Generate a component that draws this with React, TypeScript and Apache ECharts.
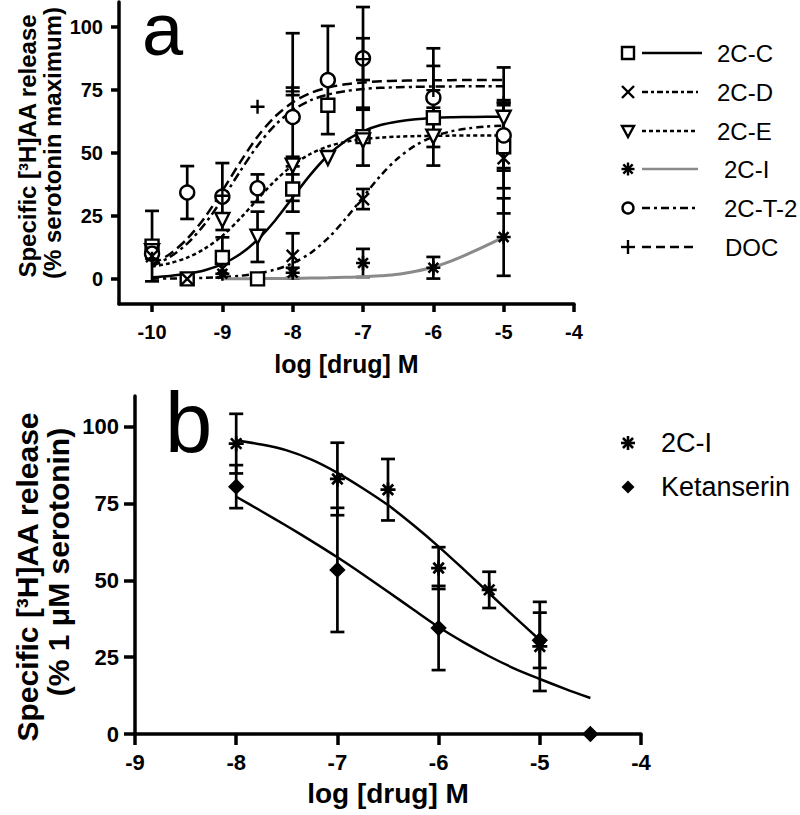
import React, { useEffect, useRef } from "react";
import * as echarts from "echarts";

const FONT = '"Liberation Sans", Arial, Helvetica, sans-serif';

// ---------- Panel a ----------
const aTicksX = [-10, -9, -8, -7, -6, -5, -4];
const aTicksY = [0, 25, 50, 75, 100];
// points: [log dose, mean, error]
const a2CC = [[-10, 13, 14], [-9.5, 0, 0], [-9, 8.5, 8], [-8.5, 0, 0], [-8, 35.7, 9], [-7.5, 69, 0], [-7, 56.5, 11.5], [-6, 64, 0], [-5, 52.5, 16.5]];
const a2CD = [[-10, 9, 0], [-9.5, 0, 0], [-9, 4, 0], [-8, 9.1, 9], [-7, 31.7, 4], [-5, 48, 22]];
const a2CE = [[-10, 11, 0], [-9, 23.4, 0], [-8.5, 16.7, 10], [-8, 45, 3.5], [-7.5, 48, 0], [-7, 55, 0], [-6, 56.5, 11.5], [-5, 64, 20]];
const a2CI = [[-9, 2, 0], [-8, 2.4, 2], [-7, 6.3, 5.6], [-6, 4.4, 4.3], [-5, 16.6, 15.4]];
const a2CT2 = [[-10, 10, 0], [-9.5, 34.3, 10.5], [-9, 32.7, 13.3], [-8.5, 36, 5.5], [-8, 64.3, 33.3], [-7.5, 79, 21.5], [-7, 87.6, 20.4], [-6, 72, 19.6], [-5, 57, 14]];
const aDOC = [[-10, 8, 0], [-9, 33, 0], [-8.5, 68.4, 0], [-8, 74.5, 1.5], [-7, 87.3, 8.3], [-6, 75, 9.6], [-5, 70, 0]];

// fitted curves
const aCurveX = [-10, -9.75, -9.5, -9.25, -9, -8.75, -8.5, -8.25, -8, -7.75, -7.5, -7.25, -7, -6.75, -6.5, -6.25, -6, -5.75, -5.5, -5.25, -5];
const aCurve2CC = [0.64, 1.13, 1.98, 3.43, 5.86, 9.74, 15.5, 23.2, 32.3, 41.3, 49.0, 54.8, 58.6, 61.1, 62.5, 63.4, 63.9, 64.2, 64.3, 64.4, 64.4];
const aCurve2CD = [0.07, 0.12, 0.22, 0.39, 0.68, 1.2, 2.1, 3.65, 6.2, 10.2, 16.1, 23.8, 32.5, 41.0, 48.0, 53.1, 56.5, 58.6, 59.8, 60.5, 60.9];
const aCurve2CE = [4.85, 6.2, 8.45, 12.0, 17.1, 23.9, 31.6, 39.0, 45.1, 49.6, 52.6, 54.4, 55.5, 56.1, 56.5, 56.7, 56.8, 56.9, 56.95, 57, 57];
const aCurve2CT2 = [5.05, 8.6, 14.0, 21.8, 31.7, 42.6, 52.9, 61.1, 67.0, 70.9, 73.2, 74.6, 75.4, 75.9, 76.15, 76.3, 76.4, 76.45, 76.5, 76.5, 76.5];
const aCurveDOC = [5.8, 9.8, 15.9, 24.4, 35.0, 46.2, 56.5, 64.5, 70.1, 73.8, 76.0, 77.3, 78.0, 78.5, 78.7, 78.85, 78.9, 78.95, 79, 79, 79];
const aCurveXCI = [-9, -8.75, -8.5, -8.25, -8, -7.75, -7.5, -7.25, -7, -6.75, -6.5, -6.25, -6, -5.75, -5.5, -5.25, -5];
const aCurve2CI = [0, 0.05, 0.1, 0.15, 0.2, 0.3, 0.4, 0.6, 0.8, 1.2, 1.8, 3.0, 4.6, 7.0, 10.0, 13.2, 16.6];

const aLegendNames = ["2C-C", "2C-D", "2C-E", "2C-I", "2C-T-2", "DOC"];

// ---------- Panel b ----------
const bTicksX = [-9, -8, -7, -6, -5, -4];
const bTicksY = [0, 25, 50, 75, 100];
const b2CI = [[-8, 94.5, 9.7], [-7, 83, 11.8], [-6.5, 79.5, 10], [-6, 54, 6.8], [-5.5, 46.9, 5.9], [-5, 28.5, 14.5]];
const bKet = [[-8, 80.5, 7], [-7, 53.4, 20.2], [-6, 34.5, 13.7], [-5, 30.5, 9], [-4.5, 0, 0]];
const bCurveX2CI = [-8, -7.75, -7.5, -7.25, -7, -6.75, -6.5, -6.25, -6, -5.75, -5.5, -5.25, -5];
const bCurve2CI = [95.5, 94.2, 92.3, 89.2, 85, 80, 74.5, 68, 61, 53.5, 45.8, 38.1, 30.6];
const bCurveXKet = [-8, -7.75, -7.5, -7.25, -7, -6.75, -6.5, -6.25, -6, -5.75, -5.5, -5.25, -5, -4.75, -4.5];
const bCurveKet = [77.2, 72.5, 67.7, 62.7, 57.5, 52.0, 46.3, 40.5, 34.8, 29.8, 25.3, 21.3, 17.9, 14.7, 11.7];
const bLegendNames = ["2C-I", "Ketanserin"];

// ---------- styles ----------
const BLACK = "#000";
const GRAY = "#8a8a8a";
const SYM_X = "path://M0,0L10,10M10,0L0,10";
const SYM_PLUS = "path://M5,0L5,10M0,5L10,5";
const SYM_STAR = "path://M5,0L5,10M0,5L10,5M1.5,1.5L8.5,8.5M8.5,1.5L1.5,8.5";

const zip = (xs: number[], ys: number[]) => xs.map((x, i) => [x, ys[i]]);

function errorSeries(data: number[][], axis: number) {
  return {
    type: "custom",
    xAxisIndex: axis,
    yAxisIndex: axis,
    z: 1,
    silent: true,
    clip: false,
    data: data.filter((d) => d[2] > 0),
    renderItem: (_p: any, api: any) => {
      const x = api.value(0);
      const m = api.value(1);
      const e = api.value(2);
      const t = api.coord([x, m + e]);
      const b = api.coord([x, m - e]);
      const hw = 7;
      const st = { stroke: BLACK, lineWidth: 2.7 };
      return {
        type: "group",
        children: [
          { type: "line", shape: { x1: t[0], y1: t[1], x2: b[0], y2: b[1] }, style: st },
          { type: "line", shape: { x1: t[0] - hw, y1: t[1], x2: t[0] + hw, y2: t[1] }, style: st },
          { type: "line", shape: { x1: b[0] - hw, y1: b[1], x2: b[0] + hw, y2: b[1] }, style: st },
        ],
      };
    },
  };
}

function pointSeries(name: string, data: number[][], axis: number, symbol: string, size: number, fill: string, rotate = 0, bw = 2.4) {
  return {
    name,
    type: "scatter",
    xAxisIndex: axis,
    yAxisIndex: axis,
    z: 4,
    silent: true,
    symbol,
    symbolSize: size,
    symbolRotate: rotate,
    itemStyle: { color: fill, borderColor: BLACK, borderWidth: bw, opacity: 1 },
    data: data.map((d) => [d[0], d[1]]),
  };
}

function curveSeries(xs: number[], ys: number[], axis: number, color: string, dash: any, width = 2.5) {
  return {
    type: "line",
    xAxisIndex: axis,
    yAxisIndex: axis,
    z: 2,
    silent: true,
    showSymbol: false,
    symbol: "none",
    smooth: 0.3,
    lineStyle: { color, width, type: dash },
    data: zip(xs, ys),
  };
}

function xAxis(gridIndex: number, min: number, max: number, ticks: number[], fs: number, margin: number, tickLen: number, nameFs: number, nameGap: number) {
  return {
    type: "value",
    gridIndex,
    min,
    max,
    position: "bottom",
    axisLine: { show: true, onZero: false, lineStyle: { color: BLACK, width: 3.5 } },
    axisTick: { show: true, customValues: ticks, length: tickLen, lineStyle: { color: BLACK, width: 3.5 } },
    axisLabel: { show: true, customValues: ticks, color: BLACK, fontSize: fs, fontWeight: "bold", fontFamily: FONT, margin },
    splitLine: { show: false },
    name: "log [drug] M",
    nameLocation: "middle",
    nameGap,
    nameTextStyle: { color: BLACK, fontSize: nameFs, fontWeight: "bold", fontFamily: FONT },
  };
}

function yAxis(gridIndex: number, min: number, max: number, ticks: number[], fs: number, margin: number, tickLen: number) {
  return {
    type: "value",
    gridIndex,
    min,
    max,
    position: "left",
    axisLine: { show: true, onZero: false, lineStyle: { color: BLACK, width: 3.5 } },
    axisTick: { show: true, customValues: ticks, length: tickLen, lineStyle: { color: BLACK, width: 3.5 } },
    axisLabel: { show: true, customValues: ticks, color: BLACK, fontSize: fs, fontWeight: "bold", fontFamily: FONT, margin },
    splitLine: { show: false },
  };
}

const legendDash: any[] = ["solid", [6, 3, 3, 3], [4, 3], "solid", [8, 4, 3, 4], [9, 5]];

function starLines(sx: number, y: number, r: number, st: any) {
  const d = r * 0.72;
  return [
    { type: "line", shape: { x1: sx, y1: y - r, x2: sx, y2: y + r }, style: st },
    { type: "line", shape: { x1: sx - r, y1: y, x2: sx + r, y2: y }, style: st },
    { type: "line", shape: { x1: sx - d, y1: y - d, x2: sx + d, y2: y + d }, style: st },
    { type: "line", shape: { x1: sx + d, y1: y - d, x2: sx - d, y2: y + d }, style: st },
  ];
}

function legendA() {
  const els: any[] = [];
  const rowY = [53, 92, 131, 169, 208, 247];
  const textX = [717, 717, 717, 724, 724, 725];
  const lineEnd = [702, 698, 698, 698, 698, 698];
  const sx = 628;
  const h = 6;
  const st = { stroke: BLACK, lineWidth: 2.4, fill: "none" };
  aLegendNames.forEach((name, i) => {
    const y = rowY[i];
    if (i === 0) els.push({ type: "rect", shape: { x: sx - h, y: y - h, width: 2 * h, height: 2 * h }, style: { ...st, fill: "#fff" } });
    if (i === 1) {
      els.push({ type: "line", shape: { x1: sx - h, y1: y - h, x2: sx + h, y2: y + h }, style: st });
      els.push({ type: "line", shape: { x1: sx + h, y1: y - h, x2: sx - h, y2: y + h }, style: st });
    }
    if (i === 2) els.push({ type: "polygon", shape: { points: [[sx - h, y - 5], [sx + h, y - 5], [sx, y + 6]] }, style: { ...st, fill: "#fff" } });
    if (i === 3) els.push(...starLines(sx, y, 6.5, st));
    if (i === 4) els.push({ type: "circle", shape: { cx: sx, cy: y, r: 5.5 }, style: { ...st, fill: "#fff" } });
    if (i === 5) {
      els.push({ type: "line", shape: { x1: sx, y1: y - h - 1, x2: sx, y2: y + h + 1 }, style: st });
      els.push({ type: "line", shape: { x1: sx - h - 1, y1: y, x2: sx + h + 1, y2: y }, style: st });
    }
    const d = legendDash[i];
    els.push({
      type: "line",
      shape: { x1: 642, y1: y, x2: lineEnd[i], y2: y },
      style: { stroke: i === 3 ? GRAY : BLACK, lineWidth: 2.5, lineDash: d === "solid" ? null : d },
    });
    els.push({
      type: "text",
      x: textX[i],
      y,
      style: { text: name, fontSize: 24, fontFamily: FONT, fill: BLACK, align: "left", verticalAlign: "middle" },
    });
  });
  return els;
}

function legendB() {
  const els: any[] = [];
  const rowY = [443, 487];
  const sx = 628;
  const st = { stroke: BLACK, lineWidth: 2.6 };
  els.push(...starLines(sx, rowY[0], 7, st));
  const y1 = rowY[1];
  els.push({ type: "polygon", shape: { points: [[sx, y1 - 6.5], [sx + 6.5, y1], [sx, y1 + 6.5], [sx - 6.5, y1]] }, style: { fill: BLACK } });
  bLegendNames.forEach((name, i) => {
    els.push({
      type: "text",
      x: 661,
      y: rowY[i],
      style: { text: name, fontSize: 27, fontFamily: FONT, fill: BLACK, align: "left", verticalAlign: "middle" },
    });
  });
  return els;
}

function yTitle(text: string, x: number, y: number, fs: number) {
  return {
    type: "text",
    x,
    y,
    rotation: Math.PI / 2,
    style: { text, fontSize: fs, fontWeight: "bold", fontFamily: FONT, fill: BLACK, align: "center", verticalAlign: "middle" },
  };
}

const option: any = {
  animation: false,
  backgroundColor: "#fff",
  grid: [
    { left: 119, top: 2, width: 455, height: 302, outerBoundsMode: "none", containLabel: false },
    { left: 135, top: 396, width: 506, height: 338, outerBoundsMode: "none", containLabel: false },
  ],
  xAxis: [
    xAxis(0, -10.47, -4, aTicksX, 20, 18, 8, 25, 47),
    xAxis(1, -9, -4, bTicksX, 22, 17, 11, 28, 45),
  ],
  yAxis: [
    yAxis(0, -10, 110, aTicksY, 20, 16, 8),
    yAxis(1, 0, 110, bTicksY, 22, 16, 11),
  ],
  series: [
    // panel a curves
    curveSeries(aCurveX, aCurve2CC, 0, BLACK, "solid"),
    curveSeries(aCurveX, aCurve2CD, 0, BLACK, [7, 4, 3, 4]),
    curveSeries(aCurveX, aCurve2CE, 0, BLACK, [4, 3]),
    curveSeries(aCurveXCI, aCurve2CI, 0, GRAY, "solid", 3),
    curveSeries(aCurveX, aCurve2CT2, 0, BLACK, [9, 4, 3, 4]),
    curveSeries(aCurveX, aCurveDOC, 0, BLACK, [10, 5]),
    // panel a error bars
    errorSeries(a2CC, 0),
    errorSeries(a2CD, 0),
    errorSeries(a2CE, 0),
    errorSeries(a2CI, 0),
    errorSeries(a2CT2, 0),
    errorSeries(aDOC, 0),
    // panel a points
    pointSeries("2C-C", a2CC, 0, "rect", 13, "#fff"),
    pointSeries("2C-E", a2CE, 0, "triangle", 14, "#fff", 180),
    pointSeries("2C-T-2", a2CT2, 0, "circle", 14, "#fff"),
    pointSeries("2C-D", a2CD, 0, SYM_X, 12, "none"),
    pointSeries("2C-I", a2CI, 0, SYM_STAR, 14, "none", 0, 2.6),
    pointSeries("DOC", aDOC, 0, SYM_PLUS, 14, "none"),
    // panel b
    curveSeries(bCurveX2CI, bCurve2CI, 1, BLACK, "solid"),
    curveSeries(bCurveXKet, bCurveKet, 1, BLACK, "solid"),
    errorSeries(b2CI, 1),
    errorSeries(bKet, 1),
    pointSeries("2C-I b", b2CI, 1, SYM_STAR, 15, "none", 0, 2.7),
    pointSeries("Ketanserin", bKet, 1, "diamond", 13, BLACK),
  ],
  graphic: [
    { type: "text", x: 142, y: 29, style: { text: "a", fontSize: 74, lineHeight: 44, fontFamily: FONT, fill: BLACK, align: "left", verticalAlign: "middle" } },
    { type: "text", x: 165, y: 422, style: { text: "b", fontSize: 85, fontFamily: FONT, fill: BLACK, align: "left", verticalAlign: "middle" } },
    yTitle("Specific [³H]AA release", 27, 146, 24),
    yTitle("(% serotonin maximum)", 52, 143, 24),
    yTitle("Specific [³H]AA release", 27, 577, 30),
    yTitle("(% 1 μM serotonin)", 58, 562, 30),
    ...legendA(),
    ...legendB(),
  ],
};

export default function App() {
  const ref = useRef<HTMLDivElement>(null);
  useEffect(() => {
    if (!ref.current) return;
    const chart = echarts.init(ref.current, null, { renderer: "svg" });
    chart.setOption(option);
    return () => chart.dispose();
  }, []);
  return <div ref={ref} style={{ position: "absolute", left: 0, top: 0, width: 800, height: 815 }} />;
}
